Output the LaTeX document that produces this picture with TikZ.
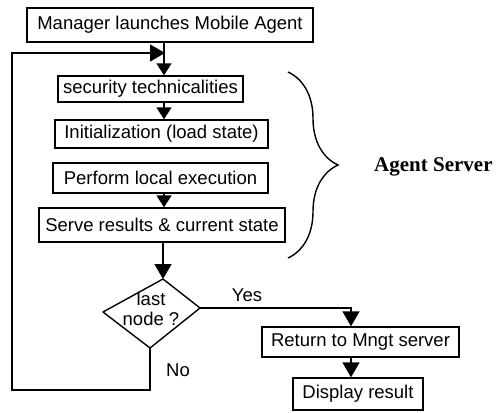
\documentclass[tikz,border=0pt]{standalone}
\usepackage{fontspec}
\setmainfont{Liberation Sans}
\newfontfamily\labelserif{Liberation Serif}
\usetikzlibrary{arrows.meta,decorations.pathreplacing}

\tikzset{
  box/.style={draw, line width=1.4pt, inner sep=0pt, font=\fontsize{18.5}{21}\selectfont},
  flow/.style={line width=1.4pt},
  bighead/.style={flow, -{Triangle[length=15pt,width=17pt]}},
  smallhead/.style={flow, -{Triangle[length=12pt,width=15pt]}},
  plain/.style={font=\fontsize{18.5}{21}\selectfont, inner sep=0pt},
}

\begin{document}
\begin{tikzpicture}[x=1pt, y=-1pt]
  \useasboundingbox (0,0) rectangle (500,412);
  \fill[white] (0,0) rectangle (500,412);

  % process boxes
  \node[box, minimum width=286pt, minimum height=34pt] (launch) at (170,25) {Manager launches Mobile Agent};
  \node[box, minimum width=185pt, minimum height=26pt] (sec) at (150.5,89) {security technicalities};
  \node[box, minimum width=213pt, minimum height=28pt] (init) at (161.5,134) {Initialization (load state)};
  \node[box, minimum width=215pt, minimum height=30pt] (perf) at (160.5,178) {Perform local execution};
  \node[box, minimum width=246pt, minimum height=34pt] (serve) at (162,225) {Serve results \& current state};
  \node[box, minimum width=197pt, minimum height=30pt] (ret) at (360.5,342) {Return to Mngt server};
  \node[box, minimum width=130pt, minimum height=32pt] (disp) at (358,394) {Display result};

  % decision diamond
  \coordinate (dT) at (163,279);
  \coordinate (dR) at (200,308);
  \coordinate (dB) at (150,348);
  \coordinate (dL) at (103,312);
  \draw[flow, line join=round] (dT) -- (dR) -- (dB) -- (dL) -- cycle;
  \node[plain, align=center] (dtext) at (151,309) {last\\[-1pt]node ?};

  % helper coordinates for the routing
  \coordinate (spine) at (164,0);
  \coordinate (yesx) at (351,0);
  \coordinate (join) at (165,53);
  \coordinate (loopL) at (12,390);

  % main flow
  \draw[smallhead] (launch.south -| spine) -- (sec.north -| spine);
  \draw[smallhead] (sec.south -| spine) -- (init.north -| spine);
  \draw[smallhead] (perf.south -| spine) -- (serve.north -| spine);
  \draw[bighead] (serve.south -| dT) -- (dT);

  % yes branch
  \draw[bighead] (dR) -- (dR -| yesx) -- (ret.north -| yesx);
  \draw[bighead] (ret.south -| yesx) -- (disp.north -| yesx);

  % no branch loops back to the top
  \draw[bighead, line join=miter] (dB) -- (dB |- loopL) -- (loopL) -- (loopL |- join) -- (join);

  \node[plain] (yes) at (247,295) {Yes};
  \node[plain] (no) at (178,370) {No};

  % brace grouping the server steps
  \draw[flow, decorate, decoration={brace, amplitude=50pt}] (288,72) -- (288,258);
  \node[anchor=west, inner sep=0pt, font=\labelserif\bfseries\fontsize{21}{24}\selectfont] (srv) at (374,167) {Agent Server};
\end{tikzpicture}
\end{document}
